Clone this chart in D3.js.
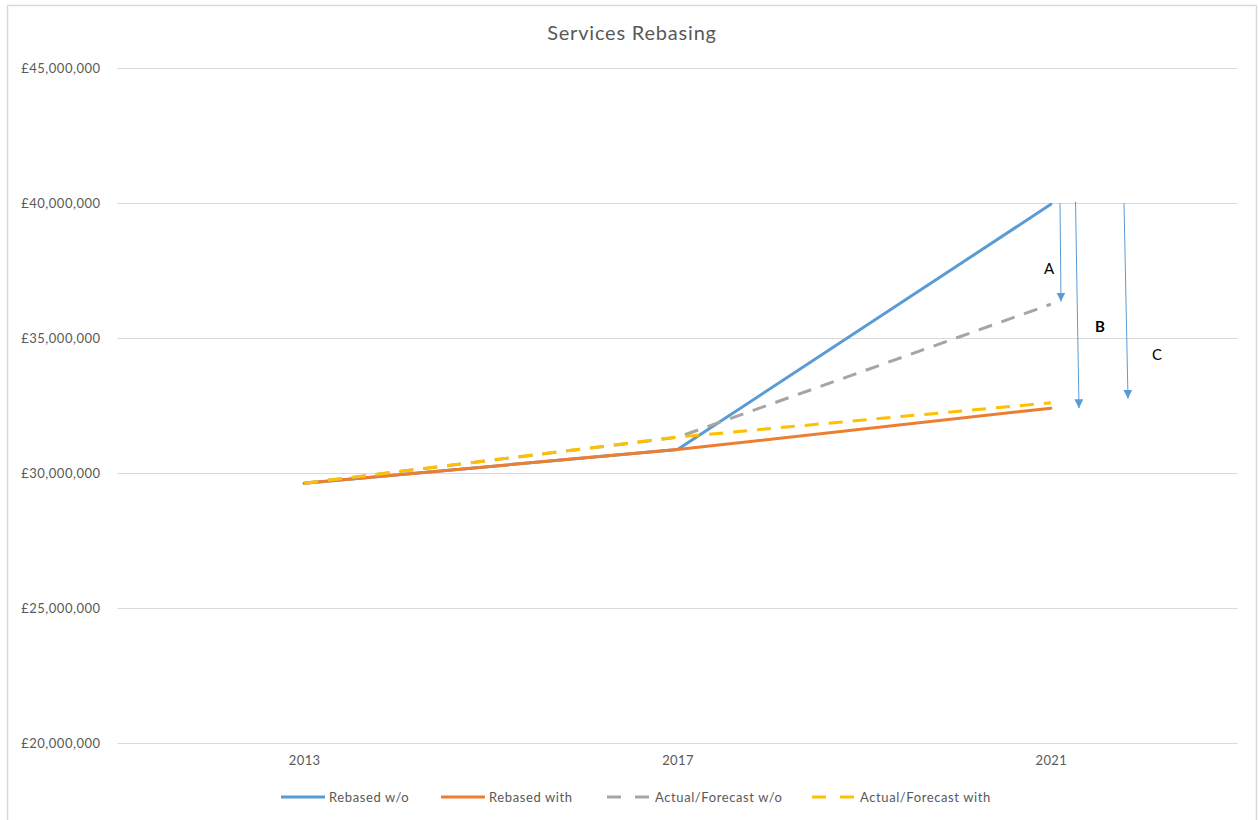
<!DOCTYPE html>
<html>
<head>
<meta charset="utf-8">
<script src="https://cdn.jsdelivr.net/npm/d3@7/dist/d3.min.js"></script>
<style>
  html, body { margin: 0; padding: 0; background: #fff; }
  svg { display: block; font-family: Lato, "Open Sans", sans-serif; }
</style>
</head>
<body>
<svg id="chart" width="1259" height="820"></svg>
<script>
// Years on the category axis
const years = ["2013", "2017", "2021"];

// Series values (GBP)
const rebasedWithout  = [29620000, 30870000, 39950000];
const rebasedWith     = [29620000, 30870000, 32400000];
const forecastWithout = [29620000, 31320000, 36250000];
const forecastWith    = [29620000, 31330000, 32600000];

// Y axis tick values
const yTicks = [20000000, 25000000, 30000000, 35000000, 40000000, 45000000];

const seriesNames = ["Rebased w/o", "Rebased with", "Actual/Forecast w/o", "Actual/Forecast with"];

// Annotation arrows: label, starting value, ending value
const arrowLabels = ["A", "B", "C"];
const arrowFrom   = [40000000, 40050000, 40000000];
const arrowTo     = [36350000, 32400000, 32750000];

const series = [
  { name: seriesNames[0], values: rebasedWithout,  color: "#5B9BD5", dash: null },
  { name: seriesNames[1], values: rebasedWith,     color: "#ED7D31", dash: null },
  { name: seriesNames[2], values: forecastWithout, color: "#A5A5A5", dash: "14,10" },
  { name: seriesNames[3], values: forecastWith,    color: "#FFC000", dash: "14,10" }
];

const svg = d3.select("#chart");

// Chart frame
svg.append("rect")
  .attr("x", 7.5).attr("y", 5.5)
  .attr("width", 1249).attr("height", 830)
  .attr("fill", "#fff").attr("stroke", "#D9D9D9").attr("stroke-width", 1.5);

const plot = { left: 117.5, right: 1237.5, top: 68, bottom: 743 };

const x = d3.scalePoint().domain(years).range([plot.left, plot.right]).padding(0.5);
const y = d3.scaleLinear().domain([20000000, 45000000]).range([plot.bottom, plot.top]);

// Title
svg.append("text")
  .attr("x", 632).attr("y", 40)
  .attr("text-anchor", "middle")
  .attr("font-size", 20)
  .attr("letter-spacing", 0.8)
  .attr("fill", "#595959")
  .text("Services Rebasing");

// Gridlines and y labels
const yAxis = d3.axisLeft(y)
  .tickValues(yTicks)
  .tickSize(-(plot.right - plot.left))
  .tickPadding(17)
  .tickFormat(d => "£" + d3.format(",")(d));

const gy = svg.append("g")
  .attr("transform", `translate(${plot.left},0)`)
  .call(yAxis);
gy.select(".domain").remove();
gy.selectAll(".tick line").attr("stroke", "#D9D9D9").attr("stroke-width", 1);
gy.selectAll(".tick text")
  .attr("fill", "#595959")
  .attr("font-size", 13)
  .attr("letter-spacing", 0.5)
  .attr("font-family", "Lato, sans-serif");

// Category labels
const xAxis = d3.axisBottom(x).tickSize(0).tickPadding(13);
const gx = svg.append("g")
  .attr("transform", `translate(0,${plot.bottom})`)
  .call(xAxis);
gx.select(".domain").remove();
gx.selectAll(".tick text")
  .attr("fill", "#595959")
  .attr("font-size", 13)
  .attr("letter-spacing", 0.4)
  .attr("font-family", "Lato, sans-serif");

// Series lines
const line = d3.line()
  .x((d, i) => x(years[i]))
  .y(d => y(d));

series.forEach(s => {
  svg.append("path")
    .datum(s.values)
    .attr("d", line)
    .attr("fill", "none")
    .attr("stroke", s.color)
    .attr("stroke-width", 3)
    .attr("stroke-linecap", s.dash ? "butt" : "round")
    .attr("stroke-dasharray", s.dash);
});

// Annotation arrows
const arrowX0 = [1060, 1075.5, 1124];
const arrowX1 = [1061, 1079, 1128];
const labelPos = [[1049, 274, "normal"], [1100, 332, "bold"], [1157, 360, "normal"]];

svg.append("defs").append("marker")
  .attr("id", "tri")
  .attr("viewBox", "0 0 10 10")
  .attr("refX", 10).attr("refY", 5)
  .attr("markerWidth", 9).attr("markerHeight", 9)
  .attr("markerUnits", "userSpaceOnUse")
  .attr("orient", "auto")
  .append("path")
  .attr("d", "M0,0 L10,5 L0,10 Z")
  .attr("fill", "#5B9BD5");

arrowLabels.forEach((lab, i) => {
  svg.append("line")
    .attr("x1", arrowX0[i]).attr("y1", y(arrowFrom[i]))
    .attr("x2", arrowX1[i]).attr("y2", y(arrowTo[i]))
    .attr("stroke", "#5B9BD5")
    .attr("stroke-width", 1)
    .attr("marker-end", "url(#tri)");
  svg.append("text")
    .attr("x", labelPos[i][0]).attr("y", labelPos[i][1])
    .attr("text-anchor", "middle")
    .attr("font-size", 15)
    .attr("font-weight", labelPos[i][2])
    .attr("fill", "#000")
    .text(lab);
});

// Legend
const legendX = [281, 441, 607, 812];
const legendY = 797;
series.forEach((s, i) => {
  const g = svg.append("g").attr("transform", `translate(${legendX[i]},${legendY})`);
  g.append("line")
    .attr("x1", 0).attr("x2", 44)
    .attr("y1", 0).attr("y2", 0)
    .attr("stroke", s.color)
    .attr("stroke-width", 3)
    .attr("stroke-dasharray", s.dash ? "14,14" : null);
  g.append("text")
    .attr("x", 48).attr("y", 4.5)
    .attr("font-size", 13)
    .attr("letter-spacing", 0.6)
    .attr("fill", "#595959")
    .text(s.name);
});
</script>
</body>
</html>
